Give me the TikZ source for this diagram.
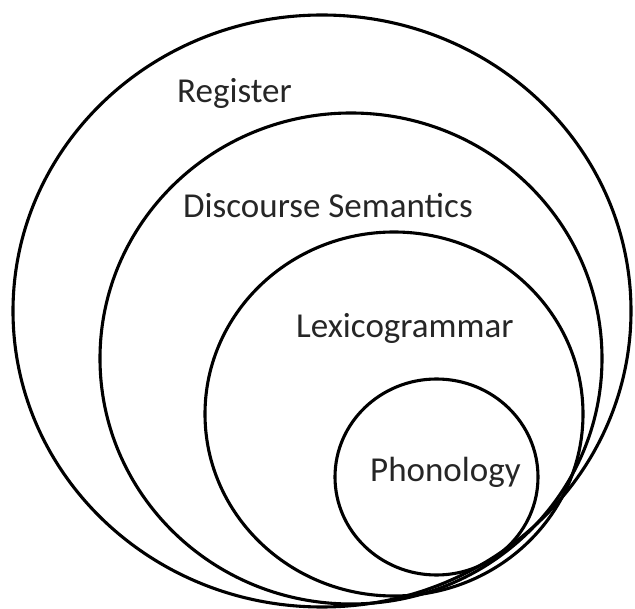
\documentclass[tikz,border=0pt]{standalone}
\usepackage{fontspec}
\setmainfont{Carlito}
\definecolor{txt}{RGB}{38,38,38}
\begin{document}
\begin{tikzpicture}[x=1pt,y=-1pt,
  ring/.style={draw=black,line width=3.1pt},
  lbl/.style={anchor=base west,inner sep=0pt,text=txt,font=\fontsize{35}{42}\selectfont}]
\useasboundingbox (0,0) rectangle (635,609);
\draw[ring] (322,311) ellipse [x radius=309,y radius=296];
\draw[ring] (351,358.5) ellipse [x radius=251,y radius=245.5];
\draw[ring] (394,414) ellipse [x radius=189,y radius=182];
\draw[ring] (436.5,477) ellipse [x radius=101.5,y radius=98];
\node[lbl] (reg) at (177,103) {Register};
\node[lbl] (ds) at (183,218) {Discourse Semantics};
\node[lbl] (lex) at (296,338) {Lexicogrammar};
\node[lbl] (pho) at (370,482) {Phonology};
\end{tikzpicture}
\end{document}
